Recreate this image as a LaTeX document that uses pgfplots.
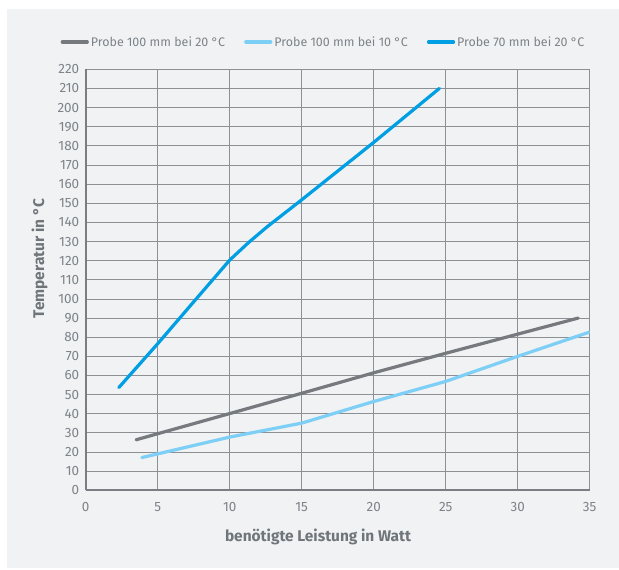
\documentclass[border=0pt]{standalone}
\usepackage{pgfplots}
\pgfplotsset{compat=1.18}
\usepackage{fontspec}
\setmainfont{Fira Sans}
\definecolor{bg}{RGB}{240,242,244}
\definecolor{gridc}{RGB}{140,144,148}
\definecolor{axc}{RGB}{122,126,130}
\definecolor{txt}{RGB}{125,131,136}
\definecolor{lab}{RGB}{112,117,122}
\definecolor{grau}{RGB}{118,122,126}
\definecolor{hellblau}{RGB}{126,207,246}
\definecolor{blau}{RGB}{0,159,227}
\begin{document}
\begin{tikzpicture}
  \path[use as bounding box, fill=white] (0bp,0bp) rectangle (619bp,570bp);
  \fill[bg] (7bp,2bp) rectangle (619bp,561bp);
  \begin{axis}[
    at={(85.7bp,79.7bp)}, anchor=south west,
    width=504bp, height=421bp, scale only axis,
    xmin=0, xmax=35, ymin=0, ymax=220,
    xtick={0,5,...,35}, ytick={0,10,...,220},
    axis lines=left,
    axis line style={-, line width=2.2bp, color=axc},
    major tick length=0pt,
    grid=major,
    grid style={line width=0.8bp, color=gridc},
    /pgf/number format/assume math mode=true,
    tick label style={font=\fontsize{13.5}{15}\selectfont, color=txt},
    xticklabel style={yshift=-9bp},
    yticklabel style={xshift=-3bp},
    xlabel={benötigte Leistung in Watt},
    ylabel={Temperatur in °C},
    label style={font=\fontsize{15.5}{18}\selectfont\bfseries, color=lab},
    xlabel style={at={(axis description cs:0.461,0)}, anchor=center, yshift=-47bp},
    ylabel style={at={(axis description cs:0,0.55)}, anchor=center, yshift=46bp},
    legend columns=-1,
    legend style={at={(axis description cs:0.472,1.065)}, anchor=center,
      draw=none, fill=none, font=\fontsize{12.5}{14}\selectfont, text=txt,
      /tikz/every even column/.append style={column sep=17bp}},
    legend image code/.code={\draw[#1, line cap=round] (0bp,0bp) -- (25bp,0bp);},
    every axis plot/.append style={line width=3.2bp, line cap=round, line join=round},
  ]
    \addplot[grau] coordinates {(3.5,26.4) (10,40.1) (15,50.7) (20,61.4) (25,71.6) (30,81.6) (34.2,90)};
    \addlegendentry{Probe 100 mm bei 20 °C}
    \addplot[hellblau] coordinates {(3.9,17.1) (10,27.8) (15,35.1) (20,46.4) (25,56.9) (30,70) (35,82.7)};
    \addlegendentry{Probe 100 mm bei 10 °C}
    \addplot[blau] coordinates {(2.3,53.7) (5,76.6) (7.5,98.5) (10,120.3) (11.3,129.4) (12.6,137.7) (15,151.8) (20,181.8) (24.56,210)};
    \addlegendentry{Probe 70 mm bei 20 °C}
  \end{axis}
\end{tikzpicture}
\end{document}
